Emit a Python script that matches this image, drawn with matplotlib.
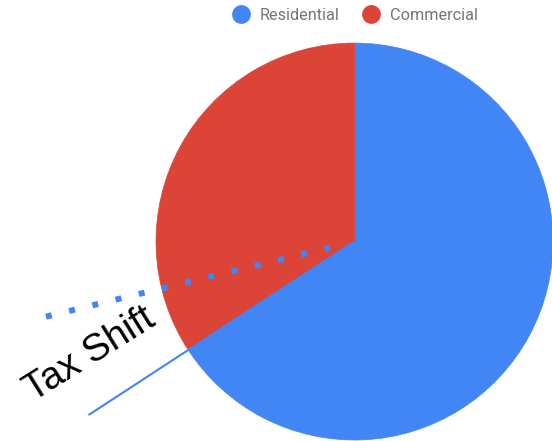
import numpy as np
import matplotlib.pyplot as plt
from matplotlib.lines import Line2D

# Data
labels = ["Residential", "Commercial"]
shares = [65.8, 34.2]          # percent of tax burden
shifted_commercial = 28.8      # commercial share after the shift
colors = ["#4285F4", "#DB4437"]

fig = plt.figure(figsize=(5.52, 4.41), dpi=100)
ax = fig.add_axes([0, 0, 1, 1])

# Pie (Residential clockwise from top, Commercial fills the rest)
wedges, _ = ax.pie(shares, colors=colors, startangle=90, counterclock=False,
                   radius=1.0)
for w, c in zip(wedges, colors):
    w.set_edgecolor(c)
    w.set_linewidth(0.5)


def ray(share, r0, r1):
    ang = np.deg2rad(90 + 360 * share / 100)
    r = np.array([r0, r1])
    return r * np.cos(ang), r * np.sin(ang)


# current boundary, extended outwards
x, y = ray(shares[1], 0.0, 1.6)
ax.plot(x, y, color="#4285F4", lw=1.5, solid_capstyle="butt")

# shifted boundary, dotted
x, y = ray(shifted_commercial, 1.6, 0.11)
ax.plot(x, y, color="#4285F4", lw=4.3, linestyle=(0, (1, 3.0)),
        dash_capstyle="butt")

# label between the two lines
mid = np.deg2rad(90 + 360 * (shares[1] + shifted_commercial) / 200)
ax.text(1.45 * np.cos(mid), 1.44 * np.sin(mid), "Tax Shift",
        rotation=32, ha="center", va="center", fontsize=27.5,
        family="Liberation Sans", color="black", rotation_mode="anchor")

ax.set_xlim(-1.786, 0.995)
ax.set_ylim(-1.005, 1.217)
ax.set_aspect("auto")
ax.axis("off")

# Legend
handles = [Line2D([], [], marker="o", linestyle="", markersize=12.5,
                  markerfacecolor=c, markeredgecolor=c) for c in colors]
leg = fig.legend(handles, labels, loc="center", ncol=2, frameon=False,
                 bbox_to_anchor=(355 / 552, 1 - 15 / 441),
                 handlelength=1.0, handletextpad=0.65, columnspacing=1.45,
                 prop=dict(family="Roboto", size=11.7))
for t in leg.get_texts():
    t.set_color("#757575")

fig.savefig("out.png", dpi=100)
